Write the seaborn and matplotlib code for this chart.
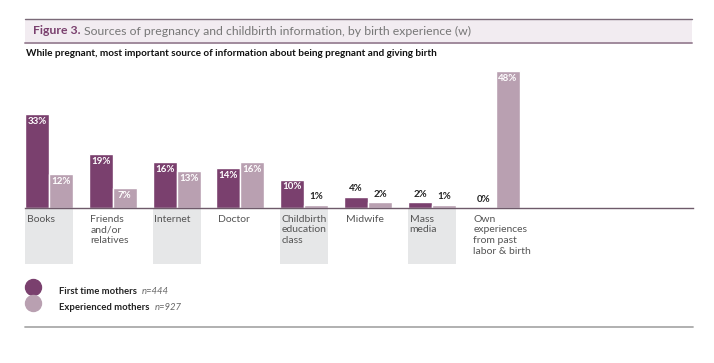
import pandas as pd
import seaborn as sns
import matplotlib.pyplot as plt
from matplotlib.patches import Rectangle
from matplotlib.lines import Line2D

# data
categories = ["Books", "Friends\nand/or\nrelatives", "Internet", "Doctor",
              "Childbirth\neducation\nclass", "Midwife", "Mass\nmedia",
              "Own\nexperiences\nfrom past\nlabor & birth"]
first_time = [33, 19, 16, 14, 10, 4, 2, 0]
experienced = [12, 7, 13, 16, 1, 2, 1, 48]
groups = ["First time mothers", "Experienced mothers"]
group_n = ["n=444", "n=927"]

DARK = "#7a406e"
LIGHT = "#b9a0b1"
FONT = "Lato"

df = pd.DataFrame({
    "source": categories * 2,
    "pct": first_time + experienced,
    "group": [groups[0]] * len(categories) + [groups[1]] * len(categories),
})

sns.set_style("white")
plt.rcParams["font.family"] = [FONT, "DejaVu Sans"]

W, H = 714, 363
fig = plt.figure(figsize=(W / 100, H / 100), dpi=100)

# axes placed so the baseline sits at y=208px, left at x=25px, right at x=693px
ax = fig.add_axes([25 / W, (H - 208) / H, 668 / W, (208 - 65.5) / H])
sns.barplot(data=df, x="source", y="pct", hue="group", order=categories,
            hue_order=groups, palette=[DARK, LIGHT], width=0.75,
            saturation=1, legend=False, ax=ax)
ax.set_xlim(-0.375, 10.09)
ax.set_ylim(0, 50)
ax.set_xlabel("")
ax.set_ylabel("")
ax.set_xticks([])
ax.set_yticks([])
for s in ["top", "right", "left"]:
    ax.spines[s].set_visible(False)
ax.spines["bottom"].set_color("#6e5a6a")
ax.spines["bottom"].set_linewidth(1.0)

# value labels
for cont in ax.containers:
    for bar in cont:
        v = bar.get_height()
        cx = bar.get_x() + bar.get_width() / 2
        if v >= 7:
            ax.text(cx, v - 1.0, f"{v:.0f}%", ha="center", va="top",
                    color="white", fontsize=7, fontweight="bold")
        else:
            ax.text(cx, v + 1.3, f"{v:.0f}%", ha="center", va="bottom",
                    color="#222222", fontsize=7, fontweight="bold")

# category labels with grey boxes on alternating groups
box_depth = 56 / 2.85
for i, lab in enumerate(categories):
    if i % 2 == 0 and i < 7:
        ax.add_patch(Rectangle((i - 0.375, -box_depth), 0.75, box_depth,
                               facecolor="#e6e7e8", edgecolor="none",
                               clip_on=False, zorder=0))
    ax.text(i - 0.35, -2.3, lab, ha="left", va="top", fontsize=7.5,
            color="#555555", linespacing=1.25, clip_on=False)

# title band
fig.patches.append(Rectangle((25 / W, 1 - 42.7 / H), 667 / W, 23.4 / H,
                             transform=fig.transFigure, facecolor="#f2ecf1",
                             edgecolor="none", zorder=0))
fig.add_artist(Line2D([25 / W, 692 / W], [1 - 19.3 / H] * 2, color="#7a6a78", lw=1.0))
fig.add_artist(Line2D([25 / W, 692 / W], [1 - 42.7 / H] * 2, color="#a08a9c", lw=1.4))

r = fig.canvas.get_renderer()
t1 = fig.text(33 / W, 1 - 31 / H, "Figure 3.", fontsize=8.8, fontweight="bold",
              color=DARK, va="center", ha="left")
bb = t1.get_window_extent(renderer=r)
fig.text((bb.x1 + 3) / W, 1 - 31 / H,
         "Sources of pregnancy and childbirth information, by birth experience (w)",
         fontsize=8.8, color="#777777", va="center", ha="left")

fig.text(26 / W, 1 - 54 / H,
         "While pregnant, most important source of information about being pregnant and giving birth",
         fontsize=7.2, fontweight="bold", color="#111111", va="center", ha="left")

# legend
for col, yy in [(DARK, 287), (LIGHT, 303)]:
    fig.add_artist(Line2D([33 / W], [1 - yy / H], marker="o", markersize=11.5,
                          color=col, lw=0))
for name, n, yy in zip(groups, group_n, [292, 308]):
    t = fig.text(59 / W, 1 - yy / H, name, fontsize=6.8, fontweight="bold",
                 color="#222222", va="center", ha="left")
    bb = t.get_window_extent(renderer=r)
    fig.text((bb.x1 + 5) / W, 1 - yy / H, n, fontsize=6.8, style="italic",
             color="#666666", va="center", ha="left")

fig.add_artist(Line2D([25 / W, 693 / W], [1 - 327 / H] * 2, color="#aaaaaa", lw=1.3))

fig.savefig("out.png", dpi=100, facecolor="white")
